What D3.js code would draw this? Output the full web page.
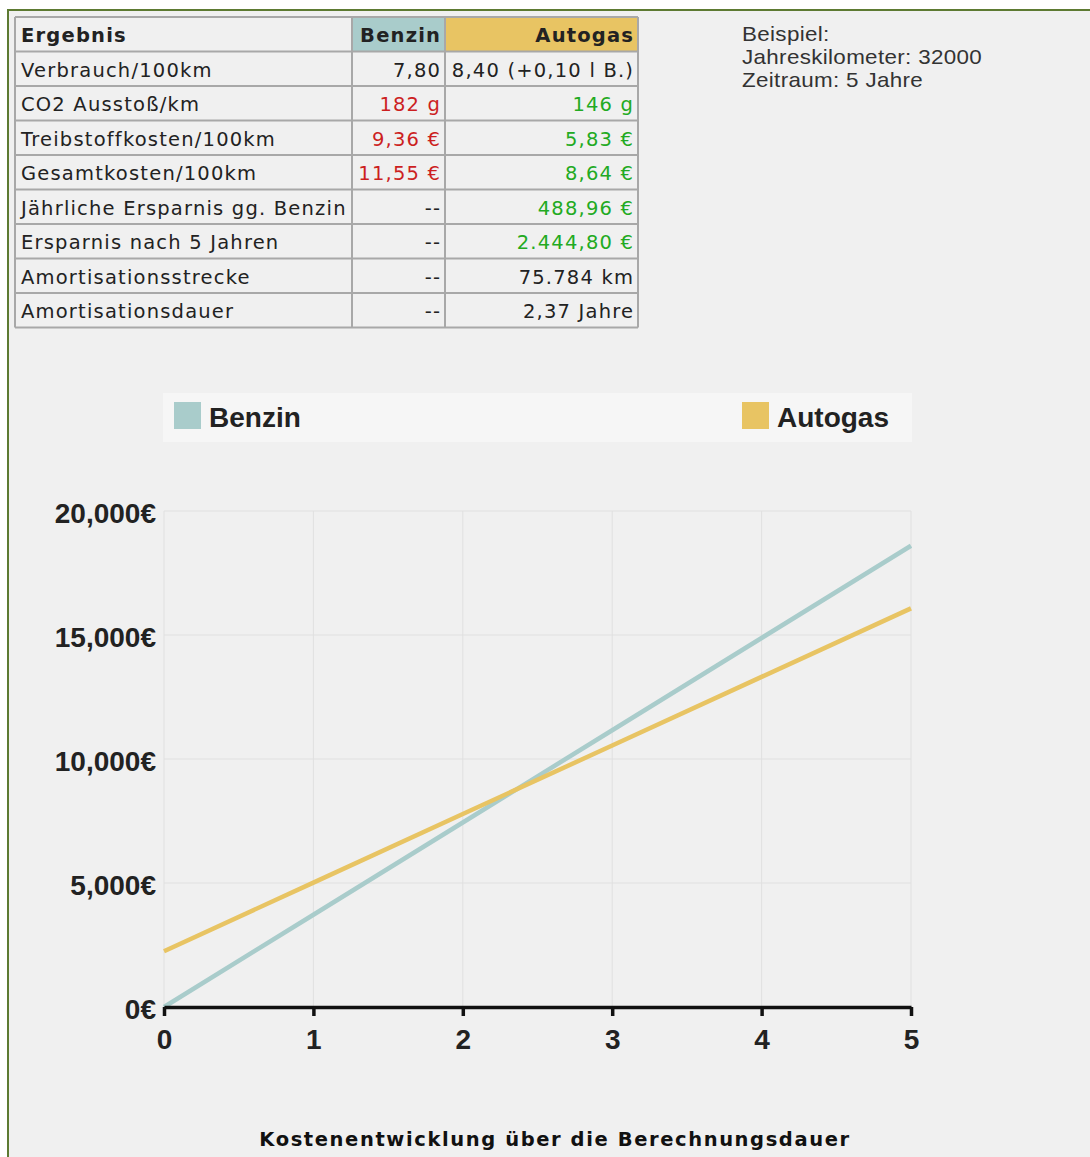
<!DOCTYPE html>
<html>
<head>
<meta charset="utf-8">
<script src="https://cdn.jsdelivr.net/npm/d3@7"></script>
<style>
  html, body { margin: 0; padding: 0; background: #fff; }
  svg { display: block; }
  .cell { font-family: "DejaVu Sans", Verdana, sans-serif; font-size: 19.5px; letter-spacing: 1.2px; fill: #222; }
  .bold { font-weight: bold; }
  .tick-label { font-family: "Liberation Sans", Arial, sans-serif; font-weight: bold; font-size: 28px; fill: #222; }
</style>
</head>
<body>
<svg id="chart" width="1090" height="1157"></svg>
<script>
// table data
var headers = ['Ergebnis', 'Benzin', 'Autogas'];
var rowLabels = ['Verbrauch/100km', 'CO2 Ausstoß/km', 'Treibstoffkosten/100km', 'Gesamtkosten/100km',
  'Jährliche Ersparnis gg. Benzin', 'Ersparnis nach 5 Jahren', 'Amortisationsstrecke', 'Amortisationsdauer'];
var benzinValues = ['7,80', '182 g', '9,36 €', '11,55 €', '--', '--', '--', '--'];
var autogasValues = ['8,40 (+0,10 l B.)', '146 g', '5,83 €', '8,64 €', '488,96 €', '2.444,80 €', '75.784 km', '2,37 Jahre'];
// 'bad' = red, 'good' = green
var benzinTone = ['', 'bad', 'bad', 'bad', '', '', '', ''];
var autogasTone = ['', 'good', 'good', 'good', 'good', 'good', '', ''];
var example = ['Beispiel:', 'Jahreskilometer: 32000', 'Zeitraum: 5 Jahre'];

// chart data (cumulative cost per year)
var years = [0, 1, 2, 3, 4, 5];
var benzinCost = [0, 3720, 7440, 11160, 14880, 18600];
var autogasCost = [2250, 5015, 7780, 10545, 13310, 16075];
var yTicks = [0, 5000, 10000, 15000, 20000];
var seriesNames = ['Benzin', 'Autogas'];
var colors = {Benzin: '#a9cccb', Autogas: '#e8c463'};
var toneColor = {bad: '#cc1f1f', good: '#22aa22', '': '#222'};

var svg = d3.select('#chart');
var ls = 1.2; // letter spacing of table text, pushes end-anchored text left

// page panel with green border
svg.append('rect').attr('x', 0).attr('y', 0).attr('width', 1090).attr('height', 1157).attr('fill', '#fff');
svg.append('rect').attr('x', 8).attr('y', 10).attr('width', 1100).attr('height', 1200)
  .attr('fill', '#f0f0f0').attr('stroke', '#5d7a32').attr('stroke-width', 2);

// ---- table ----
var colX = [15, 352, 445, 638];
var rowH = 34.5, tableTop = 17;
var table = svg.append('g');

var headFill = ['#f0f0f0', colors.Benzin, colors.Autogas];
headers.forEach(function(h, i) {
  table.append('rect').attr('x', colX[i]).attr('y', tableTop)
    .attr('width', colX[i + 1] - colX[i]).attr('height', rowH).attr('fill', headFill[i]);
});

var rowsData = rowLabels.map(function(l, i) {
  return {label: l, b: benzinValues[i], a: autogasValues[i], bt: benzinTone[i], at: autogasTone[i]};
});

// grid lines of the table
var nRows = rowLabels.length + 1;
for (var r = 0; r <= nRows; r++) {
  table.append('line').attr('x1', colX[0]).attr('x2', colX[3])
    .attr('y1', tableTop + r * rowH).attr('y2', tableTop + r * rowH)
    .attr('stroke', '#a8a8a8').attr('stroke-width', 2);
}
colX.forEach(function(x) {
  table.append('line').attr('x1', x).attr('x2', x)
    .attr('y1', tableTop).attr('y2', tableTop + nRows * rowH)
    .attr('stroke', '#a8a8a8').attr('stroke-width', 2);
});

// header text
table.append('text').attr('class', 'cell bold').attr('x', colX[0] + 6).attr('y', tableTop + rowH / 2 + 8).text(headers[0]);
table.append('text').attr('class', 'cell bold').attr('text-anchor', 'end').attr('x', colX[2] - 5 + ls).attr('y', tableTop + rowH / 2 + 8).text(headers[1]);
table.append('text').attr('class', 'cell bold').attr('text-anchor', 'end').attr('x', colX[3] - 5 + ls).attr('y', tableTop + rowH / 2 + 8).text(headers[2]);

var rows = table.selectAll('g.row').data(rowsData).enter().append('g')
  .attr('transform', function(d, i) { return 'translate(0,' + (tableTop + (i + 1) * rowH + rowH / 2 + 8) + ')'; });
rows.append('text').attr('class', 'cell').attr('x', colX[0] + 6).text(function(d) { return d.label; });
rows.append('text').attr('class', 'cell').attr('text-anchor', 'end').attr('x', colX[2] - 5 + ls)
  .style('fill', function(d) { return toneColor[d.bt]; }).text(function(d) { return d.b; });
rows.append('text').attr('class', 'cell').attr('text-anchor', 'end').attr('x', colX[3] - 5 + ls)
  .style('fill', function(d) { return toneColor[d.at]; }).text(function(d) { return d.a; });

// example text (slightly stretched like the reference)
svg.append('g').attr('transform', 'translate(742,0) scale(1.12,1)')
  .selectAll('text').data(example).enter().append('text')
  .attr('x', 0).attr('y', function(d, i) { return 41 + i * 23; })
  .attr('font-family', '"Liberation Sans", Arial, sans-serif').attr('font-size', 20)
  .attr('letter-spacing', 0.3).attr('fill', '#333').text(function(d) { return d; });

// ---- legend ----
var legend = svg.append('g');
legend.append('rect').attr('x', 163).attr('y', 393).attr('width', 749).attr('height', 49).attr('fill', '#f6f6f6');
var legendX = [174, 742];
seriesNames.forEach(function(name, i) {
  legend.append('rect').attr('x', legendX[i]).attr('y', 402).attr('width', 27).attr('height', 27).attr('fill', colors[name]);
  legend.append('text').attr('x', legendX[i] + 35).attr('y', 427)
    .attr('font-family', '"Liberation Sans", Arial, sans-serif').attr('font-weight', 'bold')
    .attr('font-size', 28).attr('fill', '#222').text(name);
});

// ---- line chart ----
var x = d3.scaleLinear().domain([0, 5]).range([164, 911]);
var y = d3.scaleLinear().domain([0, 20000]).range([1007, 511]);

var grid = svg.append('g');
grid.selectAll('line.h').data(yTicks).enter().append('line')
  .attr('x1', 164).attr('x2', 911).attr('y1', function(d) { return y(d); }).attr('y2', function(d) { return y(d); })
  .attr('stroke', '#e0e0e0').attr('stroke-width', 1);
grid.selectAll('line.v').data(years).enter().append('line')
  .attr('x1', function(d) { return x(d); }).attr('x2', function(d) { return x(d); })
  .attr('y1', 511).attr('y2', 1007)
  .attr('stroke', '#e0e0e0').attr('stroke-width', 1);

var line = d3.line().x(function(d) { return x(d[0]); }).y(function(d) { return y(d[1]); });
var series = [
  {name: 'Benzin', values: d3.zip(years, benzinCost)},
  {name: 'Autogas', values: d3.zip(years, autogasCost)}
];
svg.append('g').selectAll('path').data(series).enter().append('path')
  .attr('d', function(d) { return line(d.values); })
  .attr('fill', 'none').attr('stroke', function(d) { return colors[d.name]; })
  .attr('stroke-width', 4.5);

// x axis
var xAxis = svg.append('g').attr('transform', 'translate(0,' + y(0) + ')')
  .call(d3.axisBottom(x).tickValues(years).tickFormat(d3.format('d')).tickSize(9).tickSizeOuter(0).tickPadding(12));
xAxis.select('.domain').attr('stroke', '#111').attr('stroke-width', 3.5);
xAxis.selectAll('.tick line').attr('stroke', '#111').attr('stroke-width', 3.5);
xAxis.selectAll('.tick text').attr('class', 'tick-label').attr('fill', null).attr('dy', '0.76em');

// y axis labels
var yAxis = svg.append('g').attr('transform', 'translate(164,0)')
  .call(d3.axisLeft(y).tickValues(yTicks).tickSize(0).tickPadding(8)
    .tickFormat(function(d) { return d3.format(',')(d) + '€'; }));
yAxis.select('.domain').remove();
yAxis.selectAll('.tick text').attr('class', 'tick-label').attr('fill', null).attr('dy', '0.4em');

// title
svg.append('text').attr('x', 555).attr('y', 1146).attr('text-anchor', 'middle')
  .attr('font-family', '"DejaVu Sans", Verdana, sans-serif').attr('font-weight', 'bold')
  .attr('font-size', 19.5).attr('letter-spacing', 1.6).attr('fill', '#111')
  .text('Kostenentwicklung über die Berechnungsdauer');
</script>
</body>
</html>
